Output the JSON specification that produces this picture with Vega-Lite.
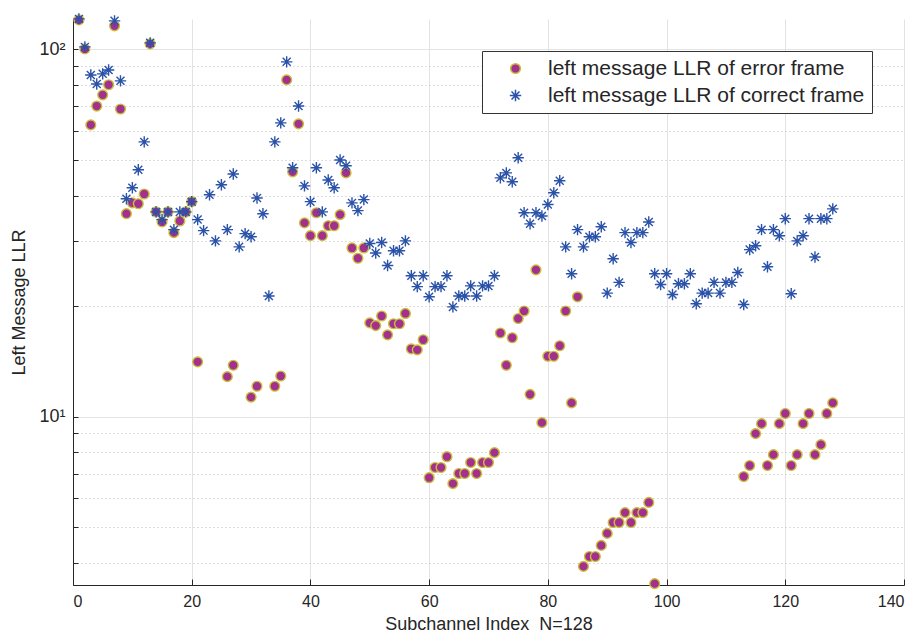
{
  "$schema": "https://vega.github.io/schema/vega-lite/v6.json",
  "width": 831,
  "height": 566,
  "autosize": {"type": "none"},
  "padding": {"left": 73, "top": 19, "right": 16, "bottom": 54},
  "background": "white",
  "data": {"values": [
    {"i":1,"v":120.3,"s":"e"},{"i":2,"v":100.3,"s":"e"},{"i":3,"v":62.3,"s":"e"},{"i":4,"v":70.1,"s":"e"},{"i":5,"v":75.2,"s":"e"},{"i":6,"v":80.1,"s":"e"},{"i":7,"v":115.9,"s":"e"},{"i":8,"v":68.8,"s":"e"},{"i":9,"v":35.7,"s":"e"},{"i":10,"v":38.2,"s":"e"},
    {"i":11,"v":38.0,"s":"e"},{"i":12,"v":40.4,"s":"e"},{"i":13,"v":103.5,"s":"e"},{"i":14,"v":36.1,"s":"e"},{"i":15,"v":33.9,"s":"e"},{"i":16,"v":36.1,"s":"e"},{"i":17,"v":31.7,"s":"e"},{"i":18,"v":34.1,"s":"e"},{"i":19,"v":36.1,"s":"e"},{"i":20,"v":38.5,"s":"e"},
    {"i":21,"v":14.1,"s":"e"},{"i":26,"v":12.85,"s":"e"},{"i":27,"v":13.8,"s":"e"},{"i":30,"v":11.3,"s":"e"},{"i":31,"v":12.1,"s":"e"},{"i":34,"v":12.1,"s":"e"},{"i":35,"v":12.9,"s":"e"},{"i":36,"v":82.6,"s":"e"},{"i":37,"v":46.4,"s":"e"},{"i":38,"v":62.7,"s":"e"},
    {"i":39,"v":33.7,"s":"e"},{"i":40,"v":31.1,"s":"e"},{"i":41,"v":35.9,"s":"e"},{"i":42,"v":31.1,"s":"e"},{"i":43,"v":33.1,"s":"e"},{"i":44,"v":33.1,"s":"e"},{"i":45,"v":35.5,"s":"e"},{"i":46,"v":46.1,"s":"e"},{"i":47,"v":28.8,"s":"e"},{"i":48,"v":27.0,"s":"e"},
    {"i":49,"v":28.8,"s":"e"},{"i":50,"v":18.0,"s":"e"},{"i":51,"v":17.7,"s":"e"},{"i":52,"v":18.8,"s":"e"},{"i":53,"v":16.7,"s":"e"},{"i":54,"v":17.9,"s":"e"},{"i":55,"v":17.9,"s":"e"},{"i":56,"v":19.1,"s":"e"},{"i":57,"v":15.3,"s":"e"},{"i":58,"v":15.2,"s":"e"},
    {"i":59,"v":16.2,"s":"e"},{"i":60,"v":6.82,"s":"e"},{"i":61,"v":7.27,"s":"e"},{"i":62,"v":7.27,"s":"e"},{"i":63,"v":7.78,"s":"e"},{"i":64,"v":6.57,"s":"e"},{"i":65,"v":7.0,"s":"e"},{"i":66,"v":7.0,"s":"e"},{"i":67,"v":7.5,"s":"e"},{"i":68,"v":7.0,"s":"e"},
    {"i":69,"v":7.5,"s":"e"},{"i":70,"v":7.5,"s":"e"},{"i":71,"v":7.98,"s":"e"},{"i":72,"v":16.9,"s":"e"},{"i":73,"v":13.8,"s":"e"},{"i":74,"v":16.4,"s":"e"},{"i":75,"v":18.5,"s":"e"},{"i":76,"v":19.4,"s":"e"},{"i":77,"v":11.5,"s":"e"},{"i":78,"v":25.1,"s":"e"},
    {"i":79,"v":9.63,"s":"e"},{"i":80,"v":14.6,"s":"e"},{"i":81,"v":14.6,"s":"e"},{"i":82,"v":15.6,"s":"e"},{"i":83,"v":19.4,"s":"e"},{"i":84,"v":10.9,"s":"e"},{"i":85,"v":21.2,"s":"e"},{"i":86,"v":3.91,"s":"e"},{"i":87,"v":4.16,"s":"e"},{"i":88,"v":4.16,"s":"e"},
    {"i":89,"v":4.46,"s":"e"},{"i":90,"v":4.81,"s":"e"},{"i":91,"v":5.15,"s":"e"},{"i":92,"v":5.15,"s":"e"},{"i":93,"v":5.48,"s":"e"},{"i":94,"v":5.15,"s":"e"},{"i":95,"v":5.48,"s":"e"},{"i":96,"v":5.48,"s":"e"},{"i":97,"v":5.84,"s":"e"},{"i":98,"v":3.51,"s":"e"},
    {"i":113,"v":6.87,"s":"e"},{"i":114,"v":7.36,"s":"e"},{"i":115,"v":8.99,"s":"e"},{"i":116,"v":9.57,"s":"e"},{"i":117,"v":7.36,"s":"e"},{"i":118,"v":7.88,"s":"e"},{"i":119,"v":9.57,"s":"e"},{"i":120,"v":10.2,"s":"e"},{"i":121,"v":7.36,"s":"e"},{"i":122,"v":7.88,"s":"e"},
    {"i":123,"v":9.57,"s":"e"},{"i":124,"v":10.2,"s":"e"},{"i":125,"v":7.88,"s":"e"},{"i":126,"v":8.39,"s":"e"},{"i":127,"v":10.2,"s":"e"},{"i":128,"v":10.9,"s":"e"},
    {"i":1,"v":121.1,"s":"c"},{"i":2,"v":101.6,"s":"c"},{"i":3,"v":85.2,"s":"c"},{"i":4,"v":80.5,"s":"c"},{"i":5,"v":85.8,"s":"c"},{"i":6,"v":87.9,"s":"c"},{"i":7,"v":119.6,"s":"c"},{"i":8,"v":82.1,"s":"c"},{"i":9,"v":39.2,"s":"c"},{"i":10,"v":42.0,"s":"c"},
    {"i":11,"v":47.0,"s":"c"},{"i":12,"v":56.0,"s":"c"},{"i":13,"v":104.2,"s":"c"},{"i":14,"v":36.1,"s":"c"},{"i":15,"v":34.4,"s":"c"},{"i":16,"v":36.1,"s":"c"},{"i":17,"v":32.3,"s":"c"},{"i":18,"v":36.1,"s":"c"},{"i":19,"v":36.1,"s":"c"},{"i":20,"v":38.5,"s":"c"},
    {"i":21,"v":34.4,"s":"c"},{"i":22,"v":32.1,"s":"c"},{"i":23,"v":40.2,"s":"c"},{"i":24,"v":30.1,"s":"c"},{"i":25,"v":42.8,"s":"c"},{"i":26,"v":32.3,"s":"c"},{"i":27,"v":45.8,"s":"c"},{"i":28,"v":29.0,"s":"c"},{"i":29,"v":31.5,"s":"c"},{"i":30,"v":30.9,"s":"c"},
    {"i":31,"v":39.4,"s":"c"},{"i":32,"v":35.7,"s":"c"},{"i":33,"v":21.3,"s":"c"},{"i":34,"v":56.0,"s":"c"},{"i":35,"v":63.1,"s":"c"},{"i":36,"v":92.5,"s":"c"},{"i":37,"v":47.6,"s":"c"},{"i":38,"v":70.1,"s":"c"},{"i":39,"v":42.5,"s":"c"},{"i":40,"v":38.5,"s":"c"},
    {"i":41,"v":47.6,"s":"c"},{"i":42,"v":36.1,"s":"c"},{"i":43,"v":44.1,"s":"c"},{"i":44,"v":42.0,"s":"c"},{"i":45,"v":50.0,"s":"c"},{"i":46,"v":48.2,"s":"c"},{"i":47,"v":38.2,"s":"c"},{"i":48,"v":36.4,"s":"c"},{"i":49,"v":39.0,"s":"c"},{"i":50,"v":29.6,"s":"c"},
    {"i":51,"v":27.9,"s":"c"},{"i":52,"v":29.8,"s":"c"},{"i":53,"v":25.8,"s":"c"},{"i":54,"v":28.3,"s":"c"},{"i":55,"v":28.3,"s":"c"},{"i":56,"v":30.1,"s":"c"},{"i":57,"v":24.2,"s":"c"},{"i":58,"v":22.6,"s":"c"},{"i":59,"v":24.2,"s":"c"},{"i":60,"v":21.2,"s":"c"},
    {"i":61,"v":22.6,"s":"c"},{"i":62,"v":22.6,"s":"c"},{"i":63,"v":24.2,"s":"c"},{"i":64,"v":19.9,"s":"c"},{"i":65,"v":21.3,"s":"c"},{"i":66,"v":21.3,"s":"c"},{"i":67,"v":22.7,"s":"c"},{"i":68,"v":21.3,"s":"c"},{"i":69,"v":22.7,"s":"c"},{"i":70,"v":22.7,"s":"c"},
    {"i":71,"v":24.2,"s":"c"},{"i":72,"v":44.7,"s":"c"},{"i":73,"v":46.1,"s":"c"},{"i":74,"v":43.6,"s":"c"},{"i":75,"v":50.7,"s":"c"},{"i":76,"v":35.9,"s":"c"},{"i":77,"v":33.5,"s":"c"},{"i":78,"v":35.9,"s":"c"},{"i":79,"v":35.2,"s":"c"},{"i":80,"v":37.8,"s":"c"},
    {"i":81,"v":40.7,"s":"c"},{"i":82,"v":43.9,"s":"c"},{"i":83,"v":29.0,"s":"c"},{"i":84,"v":24.5,"s":"c"},{"i":85,"v":32.3,"s":"c"},{"i":86,"v":29.0,"s":"c"},{"i":87,"v":30.9,"s":"c"},{"i":88,"v":30.9,"s":"c"},{"i":89,"v":32.9,"s":"c"},{"i":90,"v":21.7,"s":"c"},
    {"i":91,"v":26.9,"s":"c"},{"i":92,"v":23.2,"s":"c"},{"i":93,"v":31.7,"s":"c"},{"i":94,"v":29.8,"s":"c"},{"i":95,"v":31.7,"s":"c"},{"i":96,"v":31.7,"s":"c"},{"i":97,"v":33.9,"s":"c"},{"i":98,"v":24.5,"s":"c"},{"i":99,"v":22.9,"s":"c"},{"i":100,"v":24.5,"s":"c"},
    {"i":101,"v":21.5,"s":"c"},{"i":102,"v":23.0,"s":"c"},{"i":103,"v":23.0,"s":"c"},{"i":104,"v":24.5,"s":"c"},{"i":105,"v":20.3,"s":"c"},{"i":106,"v":21.7,"s":"c"},{"i":107,"v":21.7,"s":"c"},{"i":108,"v":23.2,"s":"c"},{"i":109,"v":21.7,"s":"c"},{"i":110,"v":23.2,"s":"c"},
    {"i":111,"v":23.2,"s":"c"},{"i":112,"v":24.7,"s":"c"},{"i":113,"v":20.2,"s":"c"},{"i":114,"v":28.5,"s":"c"},{"i":115,"v":29.2,"s":"c"},{"i":116,"v":32.3,"s":"c"},{"i":117,"v":25.6,"s":"c"},{"i":118,"v":32.3,"s":"c"},{"i":119,"v":31.1,"s":"c"},{"i":120,"v":34.6,"s":"c"},
    {"i":121,"v":21.6,"s":"c"},{"i":122,"v":30.1,"s":"c"},{"i":123,"v":31.1,"s":"c"},{"i":124,"v":34.6,"s":"c"},{"i":125,"v":27.2,"s":"c"},{"i":126,"v":34.6,"s":"c"},{"i":127,"v":34.6,"s":"c"},{"i":128,"v":36.8,"s":"c"}
  ]},
  "mark": {"type": "point", "opacity": 1, "strokeWidth": 1.4},
  "encoding": {
    "x": {
      "field": "i", "type": "quantitative",
      "scale": {"domain": [0, 140], "nice": false, "zero": false},
      "axis": {
        "values": [0, 20, 40, 60, 80, 100, 120, 140],
        "title": "Subchannel Index \u00a0N=128",
        "tickSize": -6, "labelPadding": 14, "titlePadding": 6,
        "grid": true
      }
    },
    "y": {
      "field": "v", "type": "quantitative",
      "scale": {"type": "log", "domain": [3.48, 121], "nice": false},
      "axis": {
        "values": [4, 5, 6, 7, 8, 9, 10, 20, 30, 40, 50, 60, 70, 80, 90, 100],
        "labelExpr": "datum.value == 100 ? '10²' : datum.value == 10 ? '10¹' : ''",
        "labelFontSize": 18,
        "title": "Left Message LLR",
        "tickSize": -5, "labelPadding": 13, "titlePadding": 10,
        "grid": true,
        "gridDash": {"condition": {"test": "datum.value == 10 || datum.value == 100", "value": []}, "value": [1, 3]},
        "gridColor": {"condition": {"test": "datum.value == 10 || datum.value == 100", "value": "#e3e3e3"}, "value": "#bdbdbd"}
      }
    },
    "shape": {
      "field": "s", "type": "nominal",
      "scale": {"domain": ["e", "c"], "range": ["circle", "M-1,0L1,0M0,-1L0,1M-0.7,-0.7L0.7,0.7M-0.7,0.7L0.7,-0.7"]},
      "legend": {
        "title": null, "orient": "none", "legendX": 409, "legendY": 32,
        "strokeColor": "#333333", "fillColor": "white", "padding": 7,
        "symbolOffset": 16, "labelOffset": 22, "rowPadding": 5,
        "labelFontSize": 21, "labelFont": "Liberation Sans", "labelColor": "#262626", "labelLimit": 600,
        "labelExpr": "datum.label == 'e' ? 'left message LLR of error frame' : 'left message LLR of correct frame'"
      }
    },
    "fill": {"field": "s", "type": "nominal", "scale": {"domain": ["e", "c"], "range": ["#A3308F", "transparent"]}},
    "stroke": {"field": "s", "type": "nominal", "scale": {"domain": ["e", "c"], "range": ["#C9BE3A", "#2A52A8"]}},
    "size": {"field": "s", "type": "nominal", "scale": {"domain": ["e", "c"], "range": [95, 130]}}
  },
  "config": {
    "view": {"stroke": null},
    "axis": {
      "domainColor": "#262626", "domainWidth": 1, "tickColor": "#262626",
      "labelColor": "#262626", "titleColor": "#262626",
      "labelFont": "Liberation Sans", "titleFont": "Liberation Sans",
      "labelFontSize": 16, "titleFontSize": 18, "titleFontWeight": "normal",
      "gridColor": "#e3e3e3", "gridWidth": 1
    }
  }
}
